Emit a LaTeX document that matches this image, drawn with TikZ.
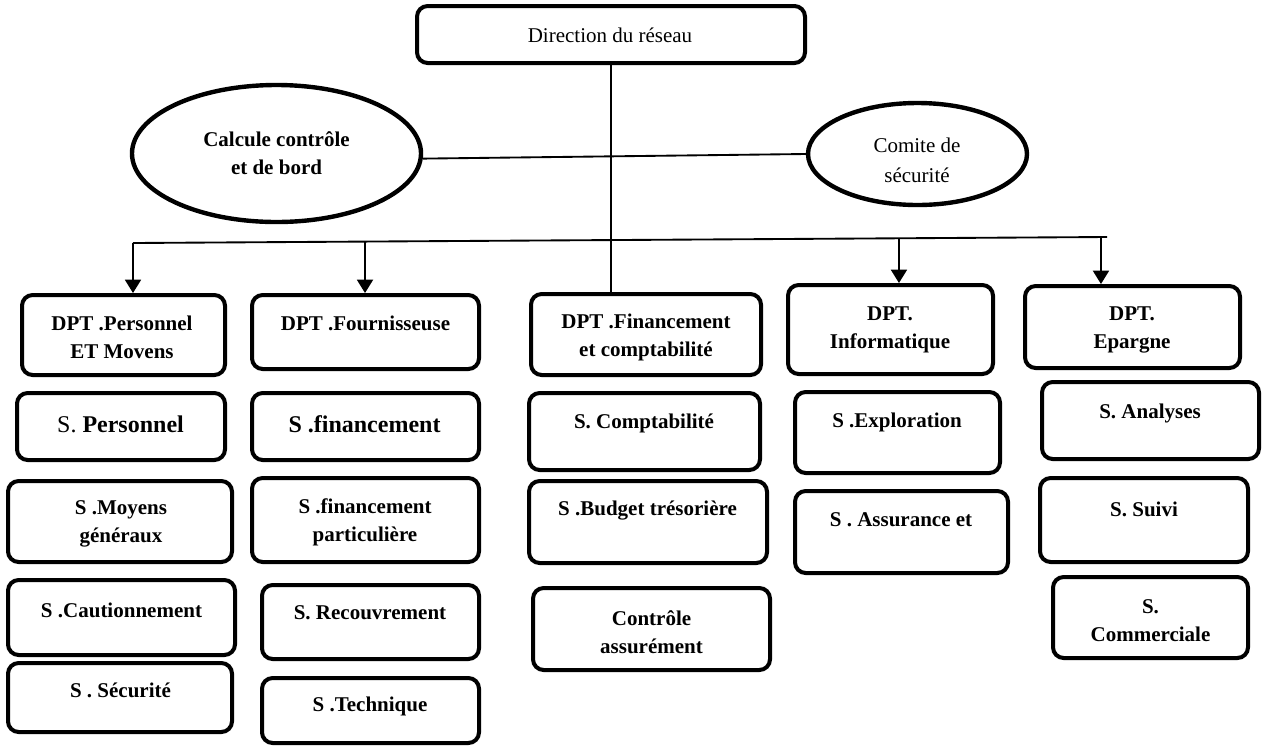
\documentclass[tikz,border=0pt]{standalone}
\usepackage{fontspec}
\setmainfont{Liberation Serif}
\usetikzlibrary{shapes.geometric,arrows.meta,fit,calc}
\newlength{\upx}
\setlength{\upx}{0.75pt}
\begin{document}
\begin{tikzpicture}[x=0.75pt,y=-0.75pt,
  box/.style={draw, line width=3pt, rounded corners=8pt, inner sep=0pt},
  oval/.style={draw, ellipse, line width=3.3pt, inner sep=0pt},
  link/.style={draw, line width=1.4pt},
  arr/.style={link, -{Triangle[width=12pt,length=10pt]}},
  bt/.style={font=\fontsize{15.75}{21}\selectfont\bfseries, align=center, inner sep=0pt},
  btbig/.style={font=\fontsize{18}{22}\selectfont\bfseries, align=center, inner sep=0pt},
  rt/.style={font=\fontsize{15.75}{22.5}\selectfont, align=center, inner sep=0pt},
]
\useasboundingbox (0,0) rectangle (1262,747);

% head of the network
\node[box, fit={(417,6) (805,63)}] (top) {};
\node[rt] (topt) at (610,35) {Direction du réseau};

% staff bodies
\node[oval, bt, minimum width=289\upx, minimum height=137\upx] (calc) at (276.5,153.5) {Calcule contrôle\\et de bord};
\node[oval, minimum width=219\upx, minimum height=102\upx] (comite) at (917.5,154) {};
\node[rt] (comitet) at (917,160) {Comite de\\sécurité};

% departments
\node[box, fit={(22,295) (225,375)}] (p1) {};
\node[bt] (p1t) at (122,337) {DPT .Personnel\\ET Movens};
\node[box, fit={(252,295) (479,369)}] (p2) {};
\node[bt] (p2t) at (365.5,323) {DPT .Fournisseuse};
\node[box, fit={(531,294) (761,375)}] (fin) {};
\node[bt] (fint) at (646,337) {DPT .Financement\\et comptabilité};
\node[box, fit={(788,285) (993,374)}] (p4) {};
\node[bt] (p4t) at (890,329.5) {DPT.\\Informatique};
\node[box, fit={(1025,286) (1240,368)}] (p5) {};
\node[bt] (p5t) at (1132,330) {DPT.\\Epargne};

% services, column 1
\node[box, fit={(17,393) (225,460)}] (s11) {};
\node[btbig] (s11t) at (120.5,424) {{\mdseries S.} Personnel};
\node[box, fit={(8,481) (232,562)}] (s21) {};
\node[bt] (s21t) at (121,524) {S .Moyens\\généraux};
\node[box, fit={(8,580) (235,655)}] (s31) {};
\node[bt] (s31t) at (121.5,610) {S .Cautionnement};
\node[box, fit={(8,663) (232,732)}] (s41) {};
\node[bt] (s41t) at (120.5,690) {S . Sécurité};

% services, column 2
\node[box, fit={(252,393) (479,460)}] (s12) {};
\node[btbig] (s12t) at (364.5,424) {S .financement};
\node[box, fit={(252,478) (479,562)}] (s22) {};
\node[bt] (s22t) at (365,522) {S .financement\\particulière};
\node[box, fit={(262,585) (479,659)}] (s32) {};
\node[bt] (s32t) at (370,613) {S. Recouvrement};
\node[box, fit={(262,678) (479,743)}] (s42) {};
\node[bt] (s42t) at (370,706) {S .Technique};

% services, column 3
\node[box, fit={(529,393) (760,470)}] (s13) {};
\node[bt] (s13t) at (644,423) {S. Comptabilité};
\node[box, fit={(529,481) (767,563)}] (s23) {};
\node[bt] (s23t) at (647.5,511) {S .Budget trésorière};
\node[box, fit={(533,588) (770,670)}] (s33) {};
\node[bt] (s33t) at (651.5,632.5) {Contrôle\\assurément};

% services, column 4
\node[box, fit={(795,392) (1000,473)}] (s14) {};
\node[bt] (s14t) at (897,422) {S .Exploration};
\node[box, fit={(795,491) (1008,573)}] (s24) {};
\node[bt] (s24t) at (901,520) {S . Assurance et};

% services, column 5
\node[box, fit={(1042,382) (1259,459)}] (s15) {};
\node[bt] (s15t) at (1150,413) {S. Analyses};
\node[box, fit={(1040,478) (1248,562)}] (s25) {};
\node[bt] (s25t) at (1144,509) {S. Suivi};
\node[box, fit={(1053,577) (1248,658)}] (s35) {};
\node[bt] (s35t) at (1150.5,620.5) {S.\\Commerciale};

% connectors
\draw[link] (calc.-2) -- (comite.west);
\draw[link] (top.south) -- (top.south |- fin.north);
\coordinate (bl) at (133,243);
\coordinate (br) at (1107,237);
\draw[link] (bl) -- (br);
\coordinate (b2) at ($(bl)!0.2382!(br)$);
\coordinate (b4) at ($(bl)!0.7864!(br)$);
\coordinate (b5) at ($(bl)!0.9938!(br)$);
\draw[arr] (bl) -- (bl |- p1.north);
\draw[arr] (b2) -- (b2 |- p2.north);
\draw[arr] (b4) -- (b4 |- p4.north);
\draw[arr] (b5) -- (b5 |- p5.north);
\end{tikzpicture}
\end{document}
